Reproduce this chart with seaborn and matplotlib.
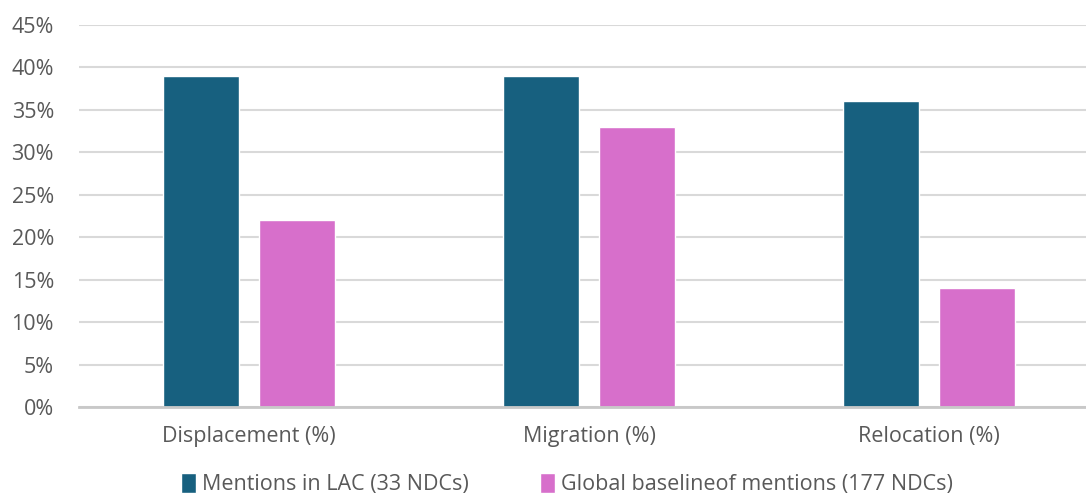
import matplotlib
matplotlib.use("Agg")
import matplotlib.pyplot as plt
import numpy as np
import pandas as pd
import seaborn as sns

# ------------------------------------------------
# Data
# ------------------------------------------------

categories = ["Displacement (%)", "Migration (%)", "Relocation (%)"]
series_names = ["Mentions in LAC (33 NDCs)", "Global baselineof mentions (177 NDCs)"]
lac_values = [39, 39, 36]
global_values = [22, 33, 14]
y_ticks = [0, 5, 10, 15, 20, 25, 30, 35, 40, 45]

colors = ["#17607f", "#d76fcb"]


def main():
    df = pd.DataFrame({
        "category": categories * 2,
        "series": [series_names[0]] * 3 + [series_names[1]] * 3,
        "value": lac_values + global_values,
    })

    sns.set_style("white")
    plt.rcParams["font.family"] = ["Open Sans", "DejaVu Sans"]

    fig = plt.figure(figsize=(10.86, 4.95), dpi=100)
    ax = fig.add_axes([79 / 1086, 88 / 495, 1007 / 1086, 382 / 495])

    sns.barplot(
        data=df,
        x="category",
        y="value",
        hue="series",
        palette=colors,
        width=0.565,
        gap=0.21,
        saturation=1,
        ax=ax,
    )

    ax.set_ylim(0, 45)
    ax.set_xlim(-0.5, 2.5 - 13 / 340)
    ax.set_yticks(y_ticks)
    ax.set_yticklabels([f"{v}%" for v in y_ticks])
    ax.set_xlabel("")
    ax.set_ylabel("")

    ax.grid(axis="y", color="#d9d9d9", linewidth=1.5)
    ax.set_axisbelow(True)
    for side in ["top", "right", "left"]:
        ax.spines[side].set_visible(False)
    ax.spines["bottom"].set_color("#c8c8c8")
    ax.spines["bottom"].set_linewidth(2)

    ax.tick_params(axis="y", length=0, labelsize=15.5, labelcolor="#595959", pad=18)
    ax.tick_params(axis="x", length=0, labelsize=15.5, labelcolor="#595959", pad=14)

    # legend centred on the figure, near the bottom edge
    ax.legend(
        loc="center",
        bbox_to_anchor=(567 / 1086, 11 / 495),
        bbox_transform=fig.transFigure,
        ncol=2,
        frameon=False,
        fontsize=15.5,
        labelcolor="#595959",
        handlelength=0.7,
        handleheight=1.1,
        handletextpad=0.3,
        columnspacing=3.3,
        borderpad=0,
    )

    fig.savefig("out.png", dpi=100)


if __name__ == "__main__":
    main()
